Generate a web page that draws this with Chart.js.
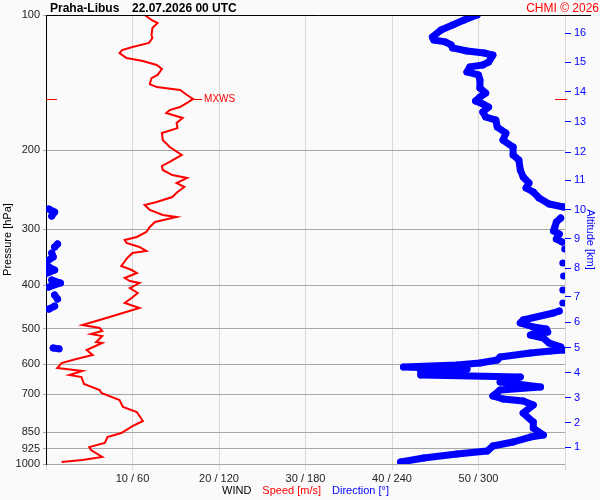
<!DOCTYPE html>
<html>
<head>
<meta charset="utf-8">
<script src="https://cdn.jsdelivr.net/npm/chart.js@4.4.1/dist/chart.umd.min.js"></script>
<style>
  html, body { margin: 0; padding: 0; background: #fafafa; }
  #wrap { width: 600px; height: 500px; }
</style>
</head>
<body>
<div id="wrap"><canvas id="myChart"></canvas></div>
<script>
// wind speed profile [hPa] / [m/s]
const windPressure = [100.0, 102.6, 104.2, 106.9, 110.8, 112.5, 115.4, 117.8, 119.7, 121.5,
  124.7, 126.6, 129.2, 131.9, 136.0, 138.2, 142.5, 144.7, 146.9, 150.7,
  153.8, 157.0, 160.3, 162.8, 165.3, 169.6, 174.0, 178.6, 183.2, 189.9,
  196.8, 205.0, 212.5, 216.9, 221.4, 227.2, 230.7, 236.7, 241.6, 247.9,
  254.3, 260.9, 265.0, 271.8, 278.8, 281.7, 289.1, 296.6, 304.3, 312.2,
  317.0, 322.0, 328.6, 335.4, 338.9, 347.7, 362.3, 369.8, 375.5, 385.3,
  391.3, 395.3, 405.6, 416.1, 426.9, 438.0, 449.4, 463.4, 477.9, 490.3,
  497.9, 505.6, 513.5, 518.8, 535.0, 537.7, 557.4, 571.9, 583.7, 595.9,
  611.4, 620.8, 633.7, 640.2, 663.6, 684.3, 694.9, 720.3, 746.6, 766.0,
  802.2, 823.1, 853.1, 870.8, 898.0, 916.6, 930.8, 964.8, 979.7, 989.8];
const windSpeed = [11.4, 12.2, 12.9, 12.3, 12.2, 12.3, 11.9, 10.0, 8.8, 8.5,
  9.3, 11.2, 12.8, 13.4, 12.9, 12.2, 12.0, 12.8, 15.5, 16.3,
  17.0, 16.3, 15.5, 14.3, 13.9, 15.8, 15.1, 15.2, 13.4, 13.5,
  14.3, 15.7, 14.3, 13.4, 13.5, 14.6, 16.3, 15.1, 16.0, 15.2,
  14.6, 12.8, 11.4, 12.0, 13.5, 15.1, 12.6, 12.0, 11.6, 10.5,
  9.1, 9.3, 10.8, 11.6, 10.0, 9.4, 8.7, 9.9, 10.5, 9.1,
  9.7, 10.8, 9.7, 10.6, 9.9, 9.1, 10.8, 8.5, 6.2, 4.2,
  6.2, 6.5, 5.2, 6.5, 5.8, 6.5, 4.7, 5.4, 3.5, 1.8,
  1.3, 4.2, 2.7, 4.1, 4.4, 6.2, 6.4, 8.5, 8.9, 10.5,
  11.2, 10.0, 8.7, 7.1, 6.8, 5.0, 5.2, 6.5, 4.2, 1.8];

// wind direction profile [hPa] / [deg]
const dirPressure = [100.0, 102.6, 105.3, 108.0, 111.9, 113.7, 114.8, 116.6, 118.4, 120.3,
  121.5, 122.8, 127.3, 129.2, 130.5, 133.9, 136.0, 139.5, 145.4, 149.2,
  152.3, 155.4, 157.8, 160.3, 164.4, 168.7, 171.4, 177.6, 183.2, 189.9,
  196.8, 205.0, 210.4, 221.4, 229.5, 236.7, 242.8, 247.9, 255.6, 263.6,
  267.7, 270.5, 274.7, 280.4, 283.3, 289.1, 296.6, 302.7, 307.4, 315.4,
  320.3, 323.6, 328.6, 331.9, 338.9, 345.9, 353.1, 356.8, 364.2, 369.8,
  375.5, 381.4, 389.3, 395.3, 403.5, 409.8, 420.5, 429.1, 438.0, 444.9,
  451.7, 456.3, 461.0, 477.9, 485.3, 495.3, 500.5, 508.3, 513.5, 516.2,
  524.3, 537.7, 548.6, 551.4, 554.0, 557.4, 560.0, 566.0, 577.8, 586.7,
  595.9, 602.0, 608.3, 614.5, 624.1, 633.7, 640.2, 656.9, 674.0, 684.3,
  705.6, 716.6, 724.0, 739.0, 770.0, 806.4, 831.6, 862.0, 870.8, 893.3,
  911.9, 935.6, 950.1, 969.8, 989.8];
const dirDeg = [299, 290, 282, 274, 268, 269, 277, 281, 282, 292,
  304, 310, 307, 303, 294, 292, 300, 301, 301, 305,
  301, 298, 303, 307, 303, 305, 312, 313, 319, 317,
  324, 324, 328, 329, 331, 335, 333, 338, 342, 349,
  359, 2, 6, 4, 357, 354, 353, 352, 356, 354,
  358, 8, 6, 359.8, 4, 5, 1, 358.5, 2, 6,
  1, 359, 4, 10, 2, 358.5, 6, 8, 358.5, 6,
  2, 356, 352, 331, 329, 338, 347, 348, 338, 336,
  345, 349, 357, 5, 9, 359, 350, 336, 315, 313,
  301, 285, 248, 292, 260, 260, 329, 315, 343, 315,
  310, 317, 331, 338, 331, 338, 338, 345, 336, 324,
  310, 306, 285, 262, 246];

// axis ticks
const pressureTicks = [100, 200, 300, 400, 500, 600, 700, 850, 925, 1000];
const speedTicks = [10, 20, 30, 40, 50];
const dirTicks = [60, 120, 180, 240, 300];
const altKm = [16, 15, 14, 13, 12, 11, 10, 9, 8, 7, 6, 5, 4, 3, 2, 1];
const altPressure = [109.7, 127.3, 148.4, 173.1, 201.9, 233.1, 271.8, 315.4, 366.0, 424.6, 482.8, 551.4, 627.0, 712.8, 810.3, 916.7];

const RED = "#ff0000";
const BLUE = "#0000ff";
const FONT = '"Liberation Sans", Arial, sans-serif';

const decor = {
  id: "decor",
  afterDraw(chart) {
    const { ctx, chartArea: a, scales } = chart;
    ctx.save();

    // top frame line
    ctx.strokeStyle = "#000";
    ctx.lineWidth = 1;
    ctx.beginPath();
    ctx.moveTo(a.left, a.top + 0.5);
    ctx.lineTo(591, a.top + 0.5);
    ctx.stroke();

    // max wind marker
    const iMax = windSpeed.indexOf(Math.max(...windSpeed));
    const py = Math.round(scales.y.getPixelForValue(windPressure[iMax])) + 0.5;
    const px = scales.x.getPixelForValue(windSpeed[iMax]);
    ctx.strokeStyle = RED;
    ctx.beginPath();
    ctx.moveTo(a.left, py); ctx.lineTo(a.left + 11, py);
    ctx.moveTo(a.right - 10, py); ctx.lineTo(a.right + 2, py);
    ctx.moveTo(px, py); ctx.lineTo(px + 9, py);
    ctx.stroke();
    ctx.fillStyle = RED;
    ctx.font = "10px " + FONT;
    ctx.textBaseline = "middle";
    ctx.fillText("MXWS", px + 11, py);

    // header
    ctx.textBaseline = "alphabetic";
    ctx.fillStyle = "#000";
    ctx.font = "bold 12px " + FONT;
    ctx.fillText("Praha-Libus", 50, 12);
    ctx.fillText("22.07.2026 00 UTC", 132, 12);
    ctx.fillStyle = RED;
    ctx.font = "12px " + FONT;
    ctx.textAlign = "right";
    ctx.fillText("CHMI \u00a9 2026", 599, 12);

    // footer axis title
    ctx.textAlign = "left";
    ctx.textBaseline = "middle";
    ctx.font = "11px " + FONT;
    const parts = [["WIND", "#000"], ["Speed [m/s]", RED], ["Direction [\u00b0]", BLUE]];
    const gap = 11;
    const total = parts.reduce((s, p) => s + ctx.measureText(p[0]).width, 0) + gap * (parts.length - 1);
    let x = (a.left + a.right) / 2 - total / 2;
    parts.forEach(([t, c]) => {
      ctx.fillStyle = c;
      ctx.fillText(t, x, 491);
      x += ctx.measureText(t).width + gap;
    });
    ctx.restore();
  },
};

Chart.defaults.font.family = FONT;
Chart.defaults.font.size = 11;
Chart.defaults.color = "#222";

const ctx = document.getElementById("myChart");
new Chart(ctx, {
  type: "scatter",
  data: {
    datasets: [
      {
        label: "Speed",
        data: windSpeed.map((s, i) => ({ x: s, y: windPressure[i] })),
        showLine: true,
        borderColor: RED,
        borderWidth: 2,
        pointRadius: 0,
        xAxisID: "x",
        yAxisID: "y",
      },
      {
        label: "Direction",
        data: dirDeg.map((d, i) => ({ x: d, y: dirPressure[i] })),
        showLine: true,
        borderColor: BLUE,
        borderWidth: 7,
        borderCapStyle: "round",
        borderJoinStyle: "round",
        pointRadius: 3.5,
        pointBorderWidth: 0,
        pointBackgroundColor: BLUE,
        segment: {
          borderColor: (c) => (Math.abs(c.p1.parsed.x - c.p0.parsed.x) > 180 ? "rgba(0,0,0,0)" : BLUE),
        },
        xAxisID: "xDir",
        yAxisID: "y",
      },
    ],
  },
  options: {
    responsive: true,
    maintainAspectRatio: false,
    animation: false,
    events: [],
    layout: { padding: { top: 15, left: 0, right: 0, bottom: 0 } },
    plugins: {
      legend: { display: false },
      tooltip: { enabled: false },
    },
    scales: {
      x: {
        type: "linear",
        position: "bottom",
        min: 0,
        max: 60,
        afterFit: (axis) => { axis.height = 36; },
        ticks: {
          stepSize: 10,
          padding: 2,
          maxRotation: 0,
          autoSkip: false,
          callback: (v) => {
            const i = speedTicks.indexOf(v);
            return i < 0 ? "" : `${v} / ${dirTicks[i]}`;
          },
        },
        grid: { color: "#d8d8d8", tickColor: "#d8d8d8", tickLength: 6 },
        border: { display: false },
      },
      xDir: {
        type: "linear",
        display: false,
        min: 0,
        max: 360,
      },
      y: {
        type: "logarithmic",
        position: "left",
        reverse: true,
        min: 100,
        max: 1000,
        afterFit: (axis) => { axis.width = 46; },
        afterBuildTicks: (axis) => { axis.ticks = pressureTicks.map((v) => ({ value: v })); },
        ticks: {
          padding: 3,
          autoSkip: false,
          callback: (v) => String(v),
        },
        grid: { color: "#a8a8a8", tickColor: "#a8a8a8", tickLength: 3 },
        border: { color: "#000", width: 1 },
        title: { display: true, text: "Pressure [hPa]", color: "#000", padding: { top: 1, bottom: 0 } },
      },
      yAlt: {
        type: "logarithmic",
        position: "right",
        reverse: true,
        min: 100,
        max: 1000,
        afterFit: (axis) => { axis.width = 35; },
        afterBuildTicks: (axis) => { axis.ticks = altPressure.map((v) => ({ value: v })); },
        ticks: {
          color: BLUE,
          padding: 3,
          autoSkip: false,
          callback: (v, i) => String(altKm[i]),
        },
        grid: { drawOnChartArea: false, tickColor: BLUE, tickLength: 6 },
        border: { display: false },
        title: { display: true, text: "Altitude [km]", color: BLUE, padding: { top: 3, bottom: 0 } },
      },
    },
  },
  plugins: [decor],
});
</script>
</body>
</html>
